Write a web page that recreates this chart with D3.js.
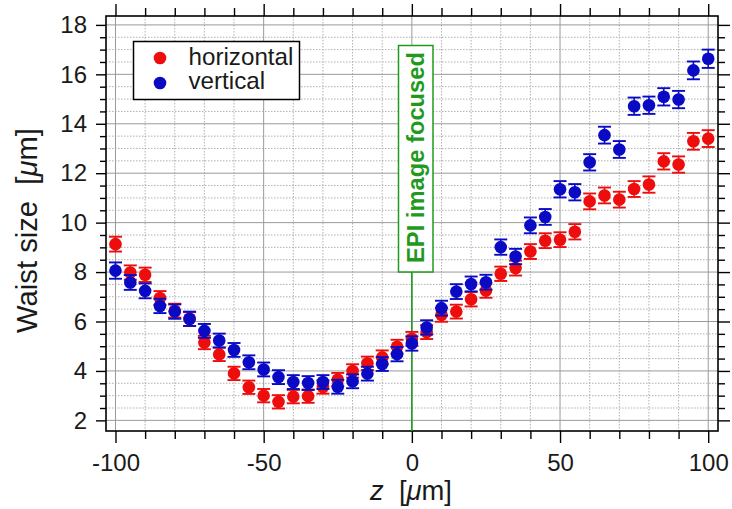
<!DOCTYPE html>
<html>
<head>
<meta charset="utf-8">
<script src="https://cdn.jsdelivr.net/npm/d3@7"></script>
<style>
  html, body { margin: 0; padding: 0; background: #fff; }
  svg { display: block; font-family: "Liberation Sans", Arial, Helvetica, sans-serif; }
</style>
</head>
<body>
<svg id="chart" width="732" height="509"></svg>
<script>
// Beam waist along z, measured for both transverse directions
const zPositions = [-100, -95, -90, -85, -80, -75, -70, -65, -60, -55, -50, -45, -40, -35, -30, -25, -20, -15, -10, -5,
  0, 5, 10, 15, 20, 25, 30, 35, 40, 45, 50, 55, 60, 65, 70, 75, 80, 85, 90, 95, 100];

const horizontalWaist = [9.13, 7.98, 7.89, 6.95, 6.44, 6.10, 5.15, 4.67, 3.90, 3.34, 3.00, 2.75, 2.96, 2.98, 3.35, 3.65, 4.00, 4.31, 4.55, 4.98,
  5.30, 5.57, 6.27, 6.40, 6.90, 7.25, 7.93, 8.16, 8.83, 9.27, 9.31, 9.63, 10.86, 11.10, 10.93, 11.36, 11.54, 12.48, 12.35, 13.29, 13.40];
const horizontalErr = [0.30, 0.29, 0.29, 0.28, 0.28, 0.28, 0.27, 0.27, 0.27, 0.27, 0.27, 0.27, 0.27, 0.27, 0.27, 0.27, 0.27, 0.27, 0.28, 0.28,
  0.28, 0.28, 0.28, 0.28, 0.29, 0.29, 0.29, 0.30, 0.30, 0.30, 0.30, 0.31, 0.32, 0.32, 0.32, 0.32, 0.33, 0.33, 0.33, 0.34, 0.34];

const verticalWaist = [8.06, 7.58, 7.24, 6.63, 6.40, 6.11, 5.62, 5.23, 4.85, 4.35, 4.06, 3.75, 3.55, 3.51, 3.55, 3.36, 3.58, 3.89, 4.28, 4.68,
  5.11, 5.76, 6.54, 7.21, 7.52, 7.59, 9.01, 8.63, 9.89, 10.23, 11.35, 11.23, 12.44, 13.54, 12.96, 14.71, 14.75, 15.09, 14.98, 16.16, 16.63];
const verticalErr = [0.33, 0.30, 0.30, 0.29, 0.29, 0.29, 0.28, 0.28, 0.28, 0.28, 0.28, 0.28, 0.28, 0.28, 0.28, 0.28, 0.28, 0.28, 0.28, 0.29,
  0.29, 0.29, 0.30, 0.30, 0.30, 0.30, 0.31, 0.31, 0.32, 0.32, 0.33, 0.33, 0.33, 0.34, 0.34, 0.35, 0.35, 0.35, 0.35, 0.36, 0.37];

const xMajorTicks = [-100, -50, 0, 50, 100];
const xMinorTicks = [-90, -80, -70, -60, -40, -30, -20, -10, 10, 20, 30, 40, 60, 70, 80, 90];
const yMajorTicks = [2, 4, 6, 8, 10, 12, 14, 16, 18];
const yMinorTicks = [2.5, 3, 3.5, 4.5, 5, 5.5, 6.5, 7, 7.5, 8.5, 9, 9.5, 10.5, 11, 11.5, 12.5, 13, 13.5, 14.5, 15, 15.5, 16.5, 17, 17.5];

const seriesNames = ["horizontal", "vertical"];
const seriesColors = ["#ee0d0d", "#0a0ac4"];
const markerLabel = "EPI image focused";
const markerZ = 0;

const svg = d3.select("#chart");
const plot = { left: 106, right: 718, top: 16, bottom: 431 };

const x = d3.scaleLinear().domain([-103.2, 103.3]).range([plot.left, plot.right]);
const y = d3.scaleLinear().domain([1.57, 18.36]).range([plot.bottom, plot.top]);

// scale a text's font so that its advance equals the wanted length
function fitLength(sel, base, target) {
  sel.attr("font-size", base);
  const len = sel.node().getComputedTextLength();
  sel.attr("font-size", base * target / len);
}

// grid: dotted minor lines, solid major lines
const grid = svg.append("g");
grid.selectAll(".gxm").data(xMinorTicks).join("line")
  .attr("x1", d => x(d)).attr("x2", d => x(d)).attr("y1", plot.top).attr("y2", plot.bottom)
  .attr("stroke", "#a8a8a8").attr("stroke-width", 0.9).attr("stroke-dasharray", "1.5,1.5");
grid.selectAll(".gym").data(yMinorTicks).join("line")
  .attr("y1", d => y(d)).attr("y2", d => y(d)).attr("x1", plot.left).attr("x2", plot.right)
  .attr("stroke", "#a8a8a8").attr("stroke-width", 0.9).attr("stroke-dasharray", "1.5,1.5");
grid.selectAll(".gxM").data(xMajorTicks).join("line")
  .attr("x1", d => x(d)).attr("x2", d => x(d)).attr("y1", plot.top).attr("y2", plot.bottom)
  .attr("stroke", "#9a9a9a").attr("stroke-width", 1);
grid.selectAll(".gyM").data(yMajorTicks).join("line")
  .attr("y1", d => y(d)).attr("y2", d => y(d)).attr("x1", plot.left).attr("x2", plot.right)
  .attr("stroke", "#9a9a9a").attr("stroke-width", 1);

// axes with long major and short minor ticks on all four sides
function styleAxis(g) {
  g.select(".domain").remove();
  g.selectAll(".tick line").attr("stroke", "#000").attr("stroke-width", 1.4);
  g.selectAll(".tick text").attr("fill", "#1a1a1a").attr("font-size", 24)
    .attr("font-family", "'Liberation Sans', Arial, sans-serif");
}
const fmt = d => String(d);

svg.append("g").attr("transform", `translate(0,${plot.bottom})`)
  .call(d3.axisBottom(x).tickValues(xMinorTicks).tickSize(8).tickFormat(""))
  .call(styleAxis);
svg.append("g").attr("transform", `translate(0,${plot.bottom})`)
  .call(d3.axisBottom(x).tickValues(xMajorTicks).tickSize(12).tickPadding(11).tickFormat(fmt))
  .call(styleAxis);
svg.append("g").attr("transform", `translate(0,${plot.top})`)
  .call(d3.axisTop(x).tickValues(xMinorTicks).tickSize(8).tickFormat(""))
  .call(styleAxis);
svg.append("g").attr("transform", `translate(0,${plot.top})`)
  .call(d3.axisTop(x).tickValues(xMajorTicks).tickSize(12).tickFormat(""))
  .call(styleAxis);
svg.append("g").attr("transform", `translate(${plot.left},0)`)
  .call(d3.axisLeft(y).tickValues(yMinorTicks).tickSize(6).tickFormat(""))
  .call(styleAxis);
svg.append("g").attr("transform", `translate(${plot.left},0)`)
  .call(d3.axisLeft(y).tickValues(yMajorTicks).tickSize(10).tickPadding(9).tickFormat(fmt))
  .call(styleAxis);
svg.append("g").attr("transform", `translate(${plot.right},0)`)
  .call(d3.axisRight(y).tickValues(yMinorTicks).tickSize(7).tickFormat(""))
  .call(styleAxis);
svg.append("g").attr("transform", `translate(${plot.right},0)`)
  .call(d3.axisRight(y).tickValues(yMajorTicks).tickSize(12).tickFormat(""))
  .call(styleAxis);

// plot frame
svg.append("rect")
  .attr("x", plot.left).attr("y", plot.top)
  .attr("width", plot.right - plot.left).attr("height", plot.bottom - plot.top)
  .attr("fill", "none").attr("stroke", "#000").attr("stroke-width", 1.6);

// focus marker line and label box
const green = "#1f9a1f";
const labelBox = { x0: 398.5, x1: 433, y0: 45.5, y1: 272 };
svg.append("line")
  .attr("x1", x(markerZ)).attr("x2", x(markerZ))
  .attr("y1", plot.bottom).attr("y2", labelBox.y1)
  .attr("stroke", green).attr("stroke-width", 1.6);
svg.append("rect")
  .attr("x", labelBox.x0).attr("y", labelBox.y0)
  .attr("width", labelBox.x1 - labelBox.x0).attr("height", labelBox.y1 - labelBox.y0)
  .attr("fill", "#fff").attr("stroke", green).attr("stroke-width", 1.5);
const epi = svg.append("g")
  .attr("transform", `translate(${(labelBox.x0 + labelBox.x1) / 2 + 8},0) rotate(-90)`)
  .append("text")
  .attr("x", -157.5).attr("y", 0)
  .attr("text-anchor", "middle")
  .attr("font-weight", "bold")
  .attr("fill", green)
  .text(markerLabel);
fitLength(epi, 22, 211);

// data series: error bars with caps, then filled circles
const seriesData = [
  zPositions.map((z, i) => ({ z, v: horizontalWaist[i], e: horizontalErr[i] })),
  zPositions.map((z, i) => ({ z, v: verticalWaist[i], e: verticalErr[i] }))
];
const capHalf = 6.5;
seriesData.forEach((pts, s) => {
  const g = svg.append("g").attr("stroke", seriesColors[s]).attr("fill", seriesColors[s]);
  g.selectAll(".eb").data(pts).join("line")
    .attr("x1", d => x(d.z)).attr("x2", d => x(d.z))
    .attr("y1", d => y(d.v - d.e)).attr("y2", d => y(d.v + d.e))
    .attr("stroke-width", 1.6);
  g.selectAll(".capT").data(pts).join("line")
    .attr("x1", d => x(d.z) - capHalf).attr("x2", d => x(d.z) + capHalf)
    .attr("y1", d => y(d.v + d.e)).attr("y2", d => y(d.v + d.e))
    .attr("stroke-width", 1.9);
  g.selectAll(".capB").data(pts).join("line")
    .attr("x1", d => x(d.z) - capHalf).attr("x2", d => x(d.z) + capHalf)
    .attr("y1", d => y(d.v - d.e)).attr("y2", d => y(d.v - d.e))
    .attr("stroke-width", 1.9);
  g.selectAll("circle").data(pts).join("circle")
    .attr("cx", d => x(d.z)).attr("cy", d => y(d.v)).attr("r", 6.3)
    .attr("stroke", "none");
});

// legend
const legend = svg.append("g");
legend.append("rect")
  .attr("x", 133.5).attr("y", 41.5).attr("width", 166).attr("height", 58)
  .attr("fill", "#fff").attr("stroke", "#000").attr("stroke-width", 1.5);
seriesNames.forEach((name, i) => {
  legend.append("circle").attr("cx", 160).attr("cy", 58 + i * 25).attr("r", 6.3).attr("fill", seriesColors[i]);
  legend.append("text").attr("x", 188.5).attr("y", 64.5 + i * 24.5)
    .attr("font-size", 24.2).attr("fill", "#1a1a1a").text(name);
});

// axis titles
const yTitle = svg.append("g")
  .attr("transform", "translate(37,0) rotate(-90)")
  .append("text")
  .attr("x", -230.5).attr("y", 0)
  .attr("text-anchor", "middle").attr("fill", "#1a1a1a")
  .attr("xml:space", "preserve");
yTitle.append("tspan").text("Waist size  [");
yTitle.append("tspan").attr("font-style", "italic").text("\u03bc");
yTitle.append("tspan").text("m]");
fitLength(yTitle, 26, 205);

const xTitle = svg.append("text")
  .attr("x", 411).attr("y", 500)
  .attr("text-anchor", "middle").attr("fill", "#1a1a1a")
  .attr("xml:space", "preserve");
xTitle.append("tspan").attr("font-style", "italic").text("z");
xTitle.append("tspan").text("  [");
xTitle.append("tspan").attr("font-style", "italic").text("\u03bc");
xTitle.append("tspan").text("m]");
fitLength(xTitle, 26, 82);
</script>
</body>
</html>
